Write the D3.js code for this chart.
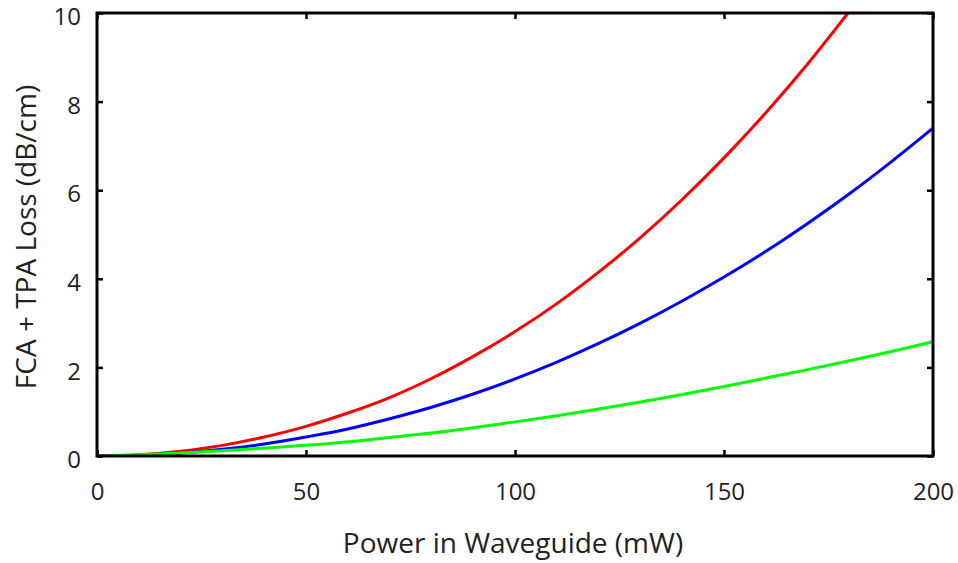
<!DOCTYPE html>
<html>
<head>
<meta charset="utf-8">
<script src="https://cdn.jsdelivr.net/npm/d3@7"></script>
<style>
  body { margin: 0; background: #fff; }
  svg text { font-family: "Open Sans", sans-serif; fill: #222; }
</style>
</head>
<body>
<div id="chart"></div>
<script>
// Potencia en la guía (mW)
const power = [0, 10, 20, 30, 40, 50, 60, 70, 80, 90, 100, 110, 120, 130, 140, 150, 160, 170, 180, 190, 200];

// Pérdida FCA + TPA (dB/cm)
const redLoss = [0, 0.03, 0.11, 0.24, 0.43, 0.67, 0.97, 1.32, 1.75, 2.25, 2.81, 3.44, 4.15, 4.93, 5.79, 6.73, 7.75, 8.85, 10.04];
const blueLoss = [0, 0.016, 0.066, 0.15, 0.27, 0.43, 0.61, 0.84, 1.10, 1.40, 1.74, 2.12, 2.54, 3.00, 3.50, 4.04, 4.62, 5.25, 5.92, 6.64, 7.40];
const greenLoss = [0, 0.03, 0.07, 0.12, 0.18, 0.24, 0.32, 0.42, 0.52, 0.64, 0.77, 0.91, 1.06, 1.22, 1.39, 1.57, 1.76, 1.95, 2.15, 2.36, 2.58];

const xTicks = [0, 50, 100, 150, 200];
const yTicks = [0, 2, 4, 6, 8, 10];

const series = [
    { name: 'red', color: '#ff0000', values: redLoss },
    { name: 'blue', color: '#0000ff', values: blueLoss },
    { name: 'green', color: '#00ff00', values: greenLoss }
];

const width = 958, height = 563;
const margin = { top: 13, right: 25, bottom: 107, left: 97 };
const plotW = width - margin.left - margin.right;
const plotH = height - margin.top - margin.bottom;

const svg = d3.select('#chart').append('svg')
    .attr('width', width)
    .attr('height', height);

const g = svg.append('g')
    .attr('transform', `translate(${margin.left},${margin.top})`);

const x = d3.scaleLinear().domain([0, 200]).range([0, plotW]);
const y = d3.scaleLinear().domain([0, 10]).range([plotH, 0]);

// Recorte al área del gráfico
svg.append('defs').append('clipPath').attr('id', 'clip')
    .append('rect').attr('width', plotW).attr('height', plotH);

// Curvas
const line = d3.line()
    .x((d, i) => x(power[i]))
    .y(d => y(d))
    .curve(d3.curveMonotoneX);

g.append('g').attr('clip-path', 'url(#clip)')
    .selectAll('path')
    .data(series)
    .enter()
    .append('path')
    .attr('fill', 'none')
    .attr('stroke', d => d.color)
    .attr('stroke-width', 3)
    .attr('d', d => line(d.values));

// Ejes con marcas hacia dentro en los cuatro lados
const tickLen = 6;
const axBottom = g.append('g').attr('transform', `translate(0,${plotH})`)
    .call(d3.axisBottom(x).tickValues(xTicks).tickSizeInner(-tickLen).tickSizeOuter(0).tickPadding(27));
const axTop = g.append('g')
    .call(d3.axisTop(x).tickValues(xTicks).tickSizeInner(-tickLen).tickSizeOuter(0).tickFormat(''));
const axLeft = g.append('g')
    .call(d3.axisLeft(y).tickValues(yTicks).tickSizeInner(-tickLen).tickSizeOuter(0).tickPadding(16));
const axRight = g.append('g').attr('transform', `translate(${plotW},0)`)
    .call(d3.axisRight(y).tickValues(yTicks).tickSizeInner(-tickLen).tickSizeOuter(0).tickFormat(''));

[axBottom, axTop, axLeft, axRight].forEach(ax => {
    ax.select('.domain').remove();
    ax.selectAll('line').attr('stroke', '#000').attr('stroke-width', 2.5);
    ax.selectAll('text').style('font-size', '24px').attr('fill', '#222');
});
// Etiquetas del eje Y un poco más abajo, como en el original
axLeft.selectAll('text').attr('y', 4);

// Marco
g.append('rect')
    .attr('width', plotW)
    .attr('height', plotH)
    .attr('fill', 'none')
    .attr('stroke', '#000')
    .attr('stroke-width', 3);

// Títulos
svg.append('text')
    .attr('x', 513)
    .attr('y', 553)
    .attr('text-anchor', 'middle')
    .style('font-size', '28px')
    .text('Power in Waveguide (mW)');

svg.append('text')
    .attr('transform', `translate(36,237) rotate(-90)`)
    .attr('text-anchor', 'middle')
    .style('font-size', '28px')
    .text('FCA + TPA Loss (dB/cm)');
</script>
</body>
</html>
